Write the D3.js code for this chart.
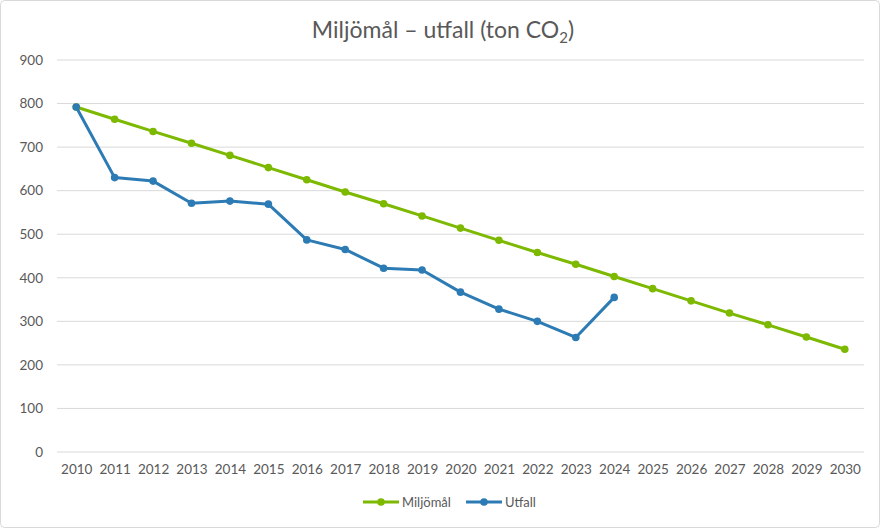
<!DOCTYPE html>
<html>
<head>
<meta charset="utf-8">
<script src="https://cdn.jsdelivr.net/npm/d3@7"></script>
<style>
  body { margin: 0; background: #fff; }
  text { font-family: "Lato", "Open Sans", sans-serif; fill: #595959; }
</style>
</head>
<body>
<svg class="chart" width="880" height="528"></svg>
<script>
const years = ["2010","2011","2012","2013","2014","2015","2016","2017","2018","2019","2020",
  "2021","2022","2023","2024","2025","2026","2027","2028","2029","2030"];
const miljomal = [792, 764, 736, 709, 681, 653, 625, 597, 570, 542, 514,
  486, 458, 431, 403, 375, 347, 319, 292, 264, 236];
const utfall = [792, 630, 622, 571, 576, 569, 487, 465, 422, 418, 367, 328, 300, 263, 355];
const yTicks = [0, 100, 200, 300, 400, 500, 600, 700, 800, 900];

const plotLeft = 57, plotRight = 864, plotTop = 60, plotBottom = 452;

const svg = d3.select(".chart");

// outer border
svg.append("rect")
  .attr("x", 0.5).attr("y", 0.5)
  .attr("width", 879).attr("height", 527)
  .attr("rx", 4)
  .attr("fill", "#fff")
  .attr("stroke", "#d9d9d9");

const xScale = d3.scalePoint().domain(years).range([plotLeft, plotRight]).padding(0.5);
const yScale = d3.scaleLinear().domain([0, 900]).range([plotBottom, plotTop]);

// gridlines
svg.append("g")
  .selectAll("line")
  .data(yTicks)
  .enter()
  .append("line")
  .attr("x1", plotLeft).attr("x2", plotRight)
  .attr("y1", d => yScale(d)).attr("y2", d => yScale(d))
  .attr("stroke", "#d9d9d9")
  .attr("stroke-width", 1);

// y axis labels
const yAxis = svg.append("g")
  .attr("transform", `translate(${plotLeft - 8}, 0)`)
  .call(d3.axisLeft(yScale).tickValues(yTicks).tickSize(0).tickPadding(6));
yAxis.select(".domain").remove();
yAxis.selectAll("text").style("font-size", "13.5px").attr("fill", "#595959");

// x axis labels
const xAxis = svg.append("g")
  .attr("transform", `translate(0, ${plotBottom + 6})`)
  .call(d3.axisBottom(xScale).tickSize(0).tickPadding(6));
xAxis.select(".domain").remove();
xAxis.selectAll("text").style("font-size", "13.5px").attr("fill", "#404040");

const series = [
  { name: "Miljömål", values: miljomal, color: "#7cb900" },
  { name: "Utfall", values: utfall, color: "#2c7bb4" }
];

const line = d3.line()
  .x((d, i) => xScale(years[i]))
  .y(d => yScale(d));

series.forEach(s => {
  svg.append("path")
    .datum(s.values)
    .attr("d", line)
    .attr("fill", "none")
    .attr("stroke", s.color)
    .attr("stroke-width", 3)
    .attr("stroke-linejoin", "round");
  svg.append("g")
    .selectAll("circle")
    .data(s.values)
    .enter()
    .append("circle")
    .attr("cx", (d, i) => xScale(years[i]))
    .attr("cy", d => yScale(d))
    .attr("r", 3.8)
    .attr("fill", s.color);
});

// title
const title = svg.append("text")
  .attr("x", 443)
  .attr("y", 38)
  .attr("text-anchor", "middle")
  .style("font-size", "23px")
  .text("Miljömål – utfall (ton CO");
title.append("tspan").attr("dy", 5).style("font-size", "15px").text("2");
title.append("tspan").attr("dy", -5).text(")");

// legend
const legendX = [363, 466];
series.forEach((s, i) => {
  const g = svg.append("g").attr("transform", `translate(${legendX[i]}, 502)`);
  g.append("line").attr("x1", 0).attr("x2", 36)
    .attr("stroke", s.color).attr("stroke-width", 3);
  g.append("circle").attr("cx", 18).attr("r", 3.8).attr("fill", s.color);
  g.append("text").attr("x", 39).attr("y", 5)
    .style("font-size", "13px").text(s.name);
});
</script>
</body>
</html>
